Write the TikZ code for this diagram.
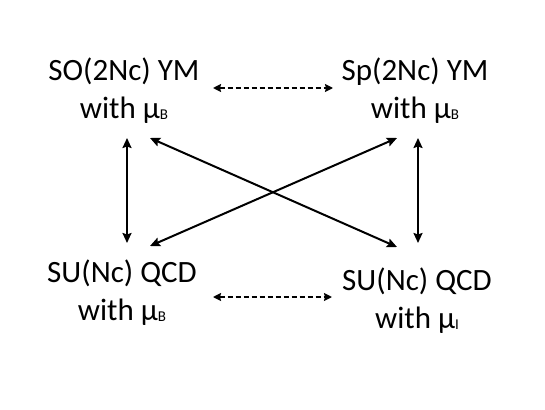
\documentclass[tikz,border=0pt]{standalone}
\usepackage{fontspec}
\setmainfont{Carlito}
\usetikzlibrary{arrows.meta}
\newcommand{\musub}[1]{μ\raisebox{-1.5pt}{\fontsize{15}{15}\selectfont #1}}
\tikzset{
  lbl/.style={anchor=base, align=center, inner sep=0pt,
    font=\fontsize{31}{38}\selectfont},
  arr/.style={line width=2pt, {Stealth[length=10pt,width=9pt,inset=1.5pt]}-{Stealth[length=10pt,width=9pt,inset=1.5pt]}},
  darr/.style={line width=2pt, dash pattern=on 5pt off 3pt,
    {Stealth[length=8pt,width=8pt,inset=1pt]}-{Stealth[length=8pt,width=8pt,inset=1pt]}}
}
\begin{document}
\begin{tikzpicture}[x=1pt,y=-1pt]
\useasboundingbox (0,0) rectangle (545,409);
% base anchor = baseline of the last line
\node[lbl] (tl) at (124,118) {SO(2Nc) YM\\with \musub{B}};
\node[lbl] (tr) at (415,118) {Sp(2Nc) YM\\with \musub{B}};
\node[lbl] (bl) at (122,320) {SU(Nc) QCD\\with \musub{B}};
\node[lbl] (br) at (417,328) {SU(Nc) QCD\\with \musub{I}};
% vertical
\draw[arr] ([shift={(3,20)}]tl.base) -- ([shift={(5,-77)}]bl.base);
\draw[arr] ([shift={(3,20)}]tr.base) -- ([shift={(1,-85)}]br.base);
% diagonals
\draw[arr] ([shift={(26,20)}]tl.base) -- ([shift={(-20,-81)}]br.base);
\draw[arr] ([shift={(28,-74)}]bl.base) -- ([shift={(-18,20)}]tr.base);
% dashed
\draw[darr] ([shift={(89,-30)}]tl.base) -- ([shift={(-82,-30)}]tr.base);
\draw[darr] ([shift={(91,-23)}]bl.base) -- ([shift={(-85,-31)}]br.base);
\end{tikzpicture}
\end{document}
